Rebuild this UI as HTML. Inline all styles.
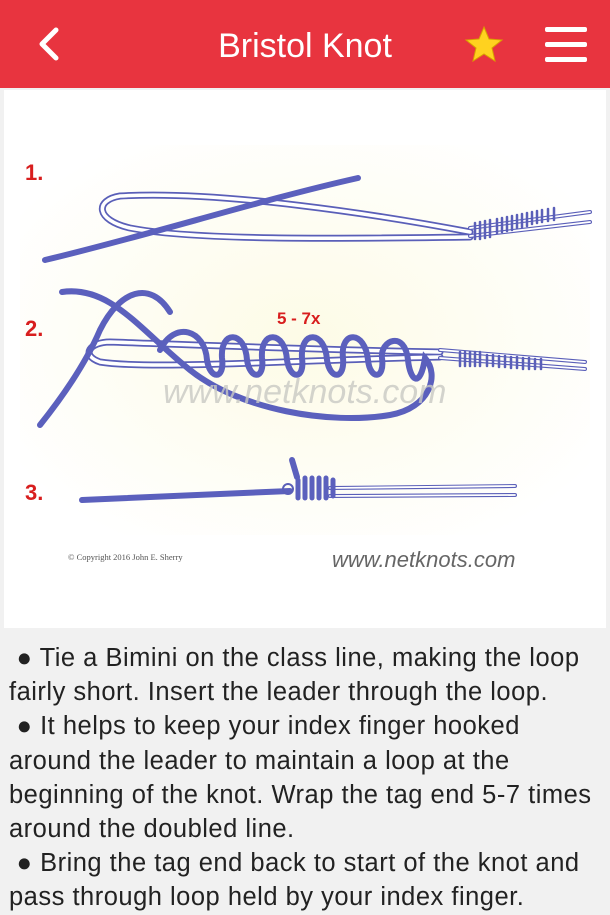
<!DOCTYPE html>
<html><head><meta charset="utf-8"><style>
html,body{margin:0;padding:0;width:610px;height:900px;overflow:hidden;background:#f1f1f1;font-family:"Liberation Sans",sans-serif}
.hdr{position:absolute;left:0;top:0;width:610px;height:88px;background:#e8343f}
.title{position:absolute;left:0;width:610px;top:27px;text-align:center;color:#fff;font-size:34px}
.card{position:absolute;left:4px;top:90px;width:602px;height:538px;background:#fff}
.txt{position:absolute;left:9px;top:641px;width:610px;font-size:25.5px;line-height:34.2px;color:#222;white-space:nowrap;letter-spacing:0.5px}
</style></head><body>
<div class="hdr">
<svg width="610" height="88" style="position:absolute;left:0;top:0">
<polyline points="56,30 42,44 56,58" fill="none" stroke="#fff" stroke-width="5" stroke-linecap="round" stroke-linejoin="round"/>
<polygon points="484,27 489,39 502,40 492,48 495,61 484,54 473,61 476,48 466,40 479,39" fill="#ffd21f" stroke="#d8a000" stroke-width="1"/>
<rect x="545" y="27" width="42" height="5" rx="2" fill="#fff"/>
<rect x="545" y="42" width="42" height="5" rx="2" fill="#fff"/>
<rect x="545" y="57" width="42" height="5" rx="2" fill="#fff"/>
</svg>
<div class="title">Bristol Knot</div>
</div>
<div class="card"></div>
<svg width="610" height="900" style="position:absolute;left:0;top:0">
<defs><radialGradient id="g" cx="50%" cy="50%" r="60%"><stop offset="0" stop-color="#fdfbe6"/><stop offset="1" stop-color="#fff"/></radialGradient></defs>
<rect x="20" y="145" width="570" height="390" fill="url(#g)"/>
<g fill="#d81e1e" font-weight="bold" font-size="22">
<text x="25" y="180">1.</text><text x="25" y="336">2.</text><text x="25" y="500">3.</text>
<text x="277" y="324" font-size="17">5 - 7x</text></g>
<g fill="none" stroke-linecap="round">
<path d="M470,237 C380,238 200,242 130,228 C95,220 95,200 120,196 C220,190 380,215 470,232" stroke="#5a5fb8" stroke-width="7"/>
<path d="M470,237 C380,238 200,242 130,228 C95,220 95,200 120,196 C220,190 380,215 470,232" stroke="#fff" stroke-width="3.5"/>
<path d="M45,260 C150,235 260,200 358,178" stroke="#5b60bd" stroke-width="6"/>
<path d="M470,228 L590,212 M470,236 L590,222" stroke="#5a5fb8" stroke-width="4"/>
<path d="M470,228 L590,212 M470,236 L590,222" stroke="#fff" stroke-width="1.8"/>
<g stroke="#5a5fb8" stroke-width="2.5">
<path d="M475,223 v16 M480,222 v17 M485,221 v17 M490,220 v17 M497,219 v14 M502,218 v14 M507,217 v14 M512,216 v14 M517,215 v13 M522,214 v13 M527,213 v13 M532,212 v12 M537,211 v12 M542,210 v12 M548,209 v12 M554,208 v12"/></g>
<path d="M440,357 C300,360 150,370 100,362 C80,355 90,342 110,342 C200,345 320,350 440,352" stroke="#5a5fb8" stroke-width="7"/>
<path d="M440,357 C300,360 150,370 100,362 C80,355 90,342 110,342 C200,345 320,350 440,352" stroke="#fff" stroke-width="3.5"/>
<path d="M440,350 L585,362 M440,358 L585,369" stroke="#5a5fb8" stroke-width="4"/>
<path d="M440,350 L585,362 M440,358 L585,369" stroke="#fff" stroke-width="1.8"/>
<g stroke="#5a5fb8" stroke-width="2.5"><path d="M460,352 v14 M465,352 v14 M470,352 v14 M475,352 v14 M480,352 v14 M487,355 v11 M493,355 v11 M499,356 v11 M505,356 v11 M511,357 v11 M517,357 v11 M523,358 v11 M529,358 v11 M535,359 v10 M541,359 v10"/></g>
<path d="M62,292 C110,285 140,330 190,370 C240,410 330,425 390,415 C430,408 440,375 425,358 C420,390 410,380 408,360 C405,330 380,340 382,358 C385,380 370,380 368,360 C365,330 340,330 343,358 C345,380 330,380 327,360 C325,330 300,330 302,358 C305,380 290,380 287,360 C285,330 260,330 262,358 C265,380 250,380 247,360 C245,330 220,330 222,358 C225,380 210,380 207,360 C205,330 175,320 160,350 M170,312 C150,280 120,290 100,330 C85,365 60,400 40,425" stroke="#5b60bd" stroke-width="6"/>
<path d="M82,500 L290,491" stroke="#5b60bd" stroke-width="6"/>
<path d="M330,488 L515,486 M330,496 L515,495" stroke="#5a5fb8" stroke-width="4"/>
<path d="M330,488 L515,486 M330,496 L515,495" stroke="#fff" stroke-width="1.8"/>
<path d="M292,460 L297,477" stroke="#5b60bd" stroke-width="6"/>
<g stroke="#5b60bd" stroke-width="5"><path d="M298,480 v18 M305,478 v20 M312,478 v20 M319,478 v20 M326,478 v20 M333,480 v16"/></g>
<ellipse cx="288" cy="489" rx="5" ry="5" stroke="#5a5fb8" stroke-width="2"/>
</g>
<text x="163" y="403" fill="#c9c9c4" font-style="italic" font-size="34" opacity=".8">www.netknots.com</text>
<text x="68" y="560" fill="#555" font-family="Liberation Serif" font-size="8.5">© Copyright  2016  John E. Sherry</text>
<text x="332" y="567" fill="#666" font-style="italic" font-size="22">www.netknots.com</text>
</svg>
<div class="txt">&nbsp;● Tie a Bimini on the class line, making the loop<br>fairly short. Insert the leader through the loop.<br>&nbsp;● It helps to keep your index finger hooked<br>around the leader to maintain a loop at the<br>beginning of the knot. Wrap the tag end 5-7 times<br>around the doubled line.<br>&nbsp;● Bring the tag end back to start of the knot and<br>pass through loop held by your index finger.</div>
</body></html>
